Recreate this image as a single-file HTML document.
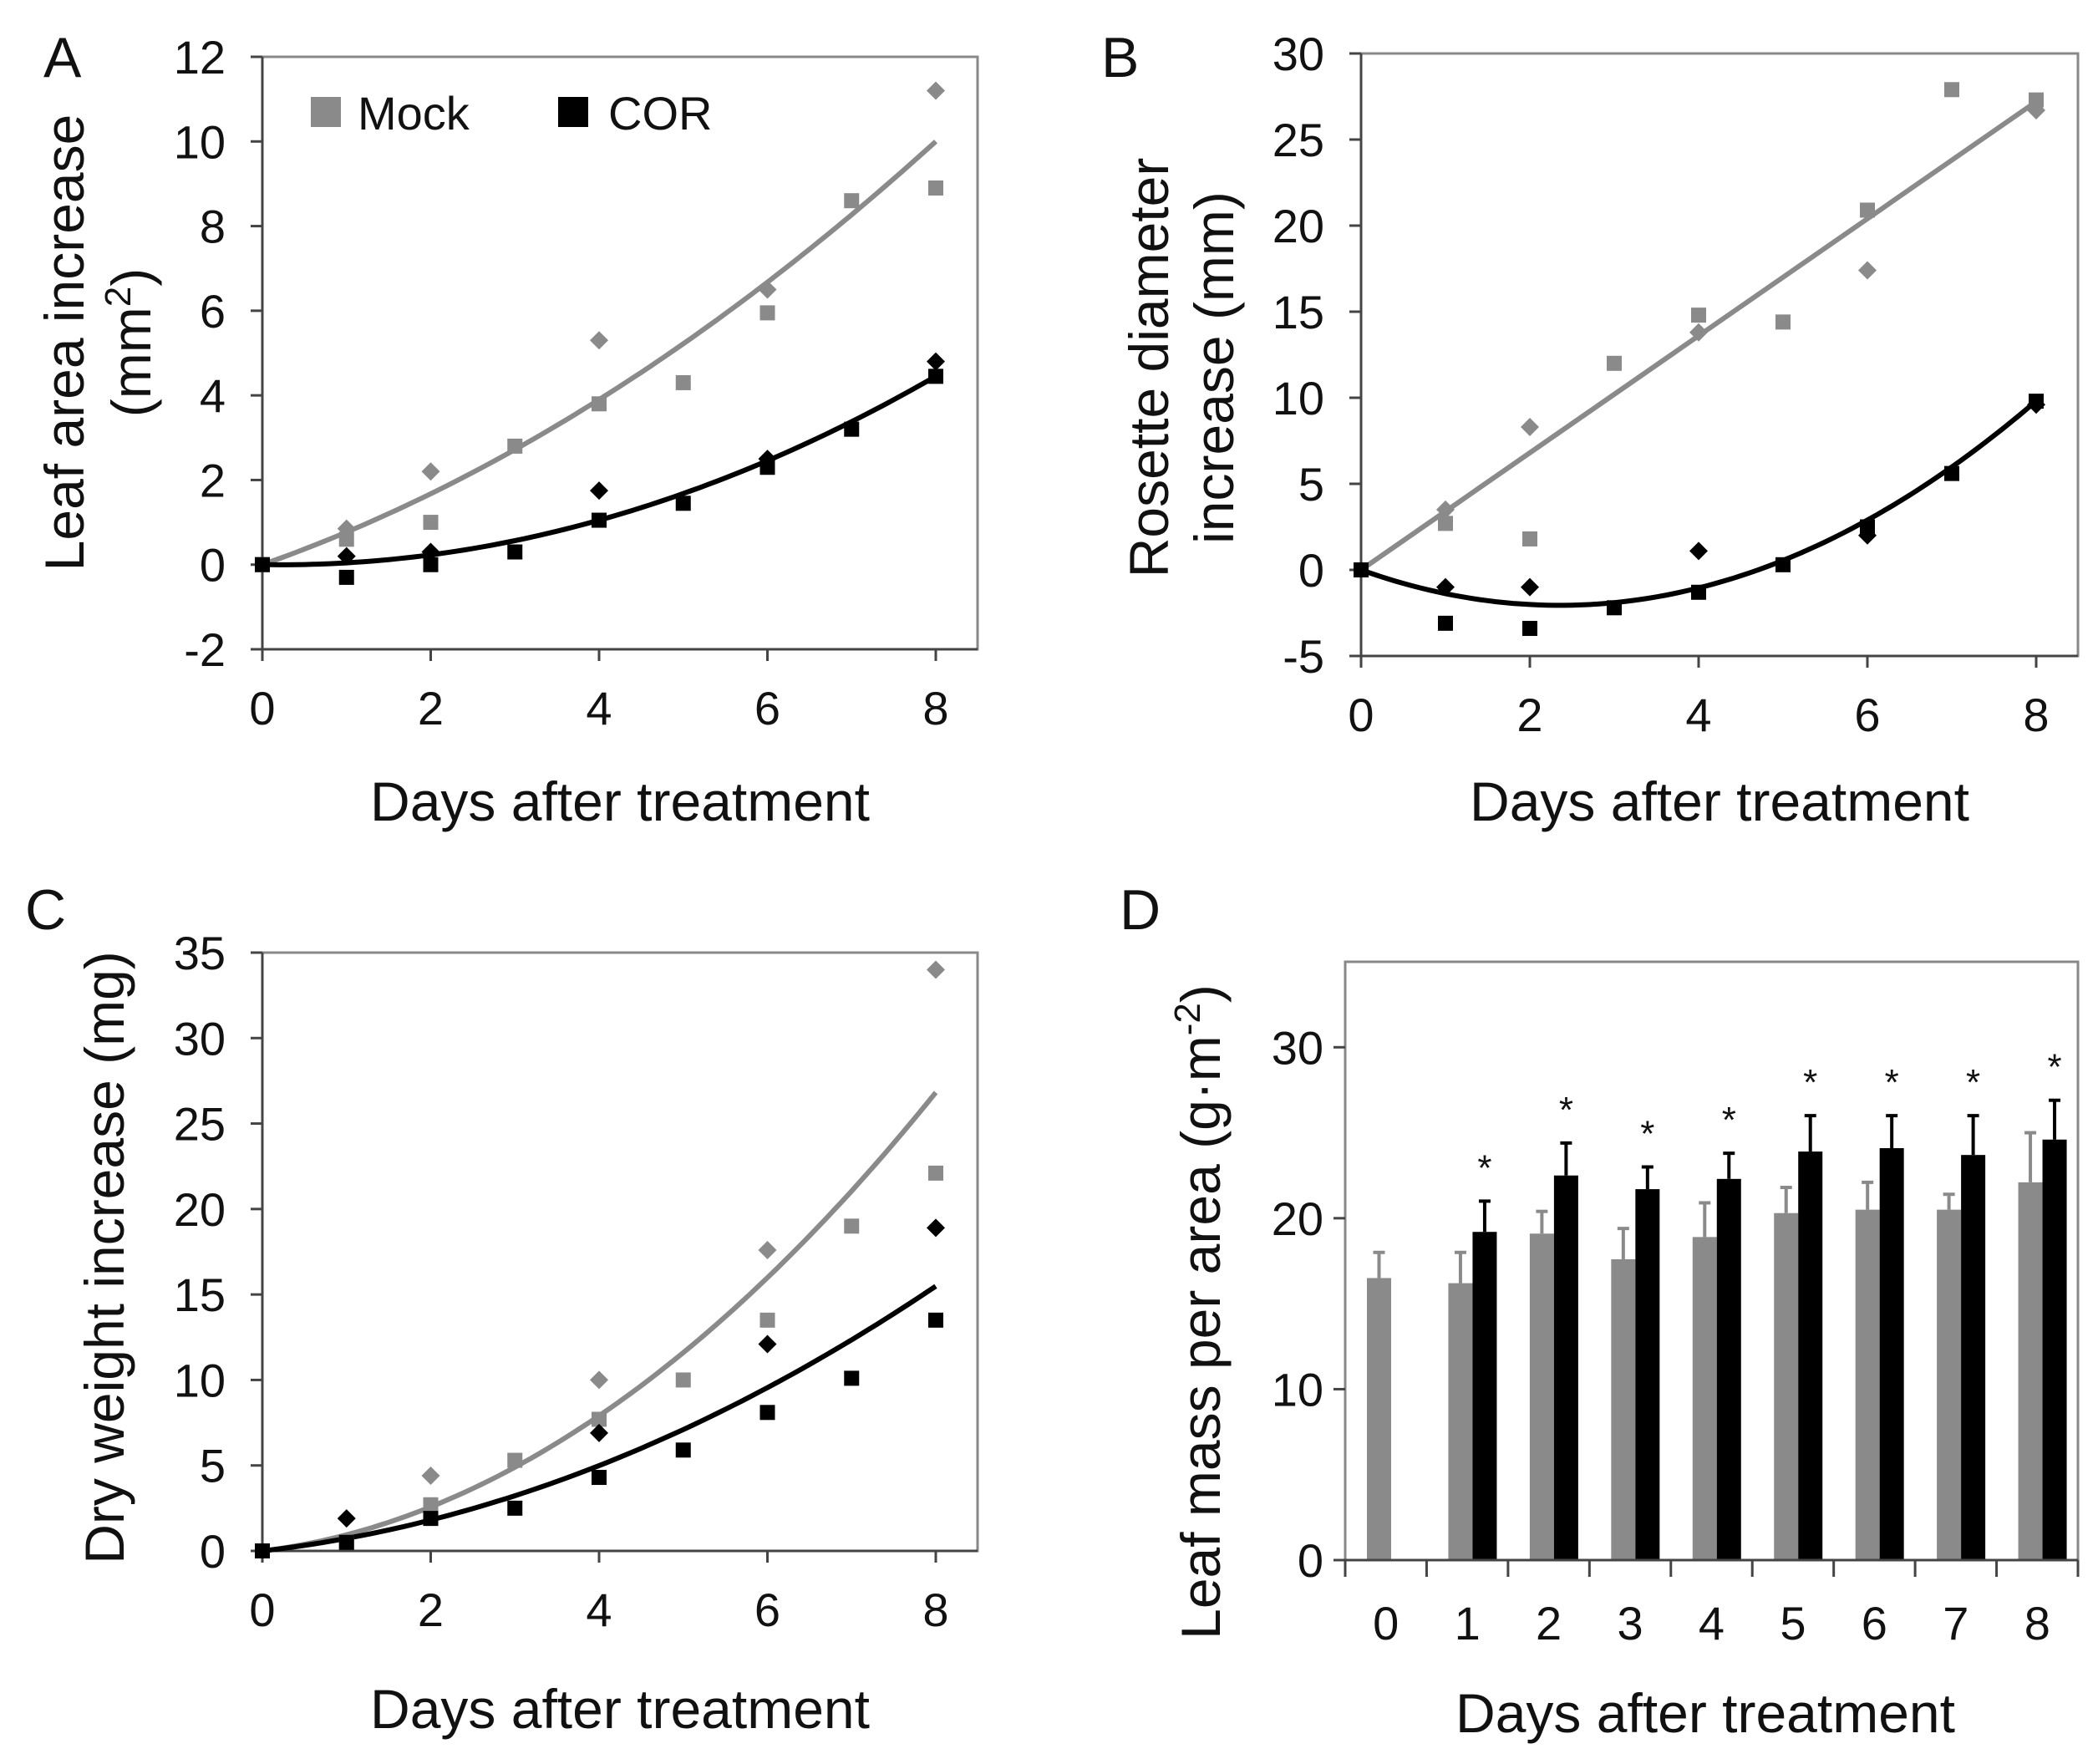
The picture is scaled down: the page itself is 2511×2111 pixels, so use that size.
<!DOCTYPE html>
<html><head><meta charset="utf-8"><style>
html,body{margin:0;padding:0;background:#fff}
svg text{font-family:"Liberation Sans",sans-serif;fill:#111}
</style></head><body>
<svg id="fig" width="2511" height="2106" viewBox="0 0 2511 2106" xmlns="http://www.w3.org/2000/svg">
<rect width="2511" height="2106" fill="#fff"/>
</svg>
<script>
// ---- Panel A data ----
const aDays = [0,1,2,3,4,5,6,7,8];
const aMockSq = [0,0.6,1.0,2.8,3.8,4.3,5.95,8.6,8.9];
const aCorSq = [0,-0.3,0.0,0.3,1.05,1.45,2.3,3.2,4.45];
const aDiaDays = [1,2,4,6,8];
const aMockDia = [0.85,2.2,5.3,6.5,11.2];
const aCorDia = [0.2,0.3,1.75,2.5,4.8];
const aMockFit = [0.7,0.06875];
const aCorFit = [-0.031,0.0734];
const aYTicks = [-2,0,2,4,6,8,10,12];
// ---- Panel B data ----
const bDays = [0,1,2,3,4,5,6,7,8];
const bMockSq = [0,2.7,1.8,12,14.8,14.4,20.9,27.9,27.3];
const bCorSq = [0,-3.1,-3.4,-2.2,-1.3,0.3,2.5,5.6,9.8];
const bDiaDays = [1,2,4,6,8];
const bMockDia = [3.5,8.3,13.8,17.4,26.7];
const bCorDia = [-1,-1,1.1,2.0,9.6];
const bMockFit = [3.4,0];
const bCorFit = [-1.75,0.372];
const bYTicks = [-5,0,5,10,15,20,25,30];
// ---- Panel C data ----
const cDays = [0,1,2,3,4,5,6,7,8];
const cMockSq = [0,0.5,2.7,5.3,7.7,10,13.5,19,22.1];
const cCorSq = [0,0.5,1.9,2.5,4.3,5.9,8.1,10.1,13.5];
const cMockDiaDays = [2,4,6,8];
const cMockDia = [4.4,10,17.6,34];
const cCorDiaDays = [1,4,6,8];
const cCorDia = [1.9,6.9,12.1,18.9];
const cMockFit = [0.6,0.344];
const cCorFit = [0.56,0.172];
const cYTicks = [0,5,10,15,20,25,30,35];
// ---- Panel D data ----
const dCats = ['0','1','2','3','4','5','6','7','8'];
const dMock = [16.5,16.2,19.1,17.6,18.9,20.3,20.5,20.5,22.1];
const dMockErr = [18,18,20.4,19.4,20.9,21.8,22.1,21.4,25];
const dCor = [null,19.2,22.5,21.7,22.3,23.9,24.1,23.7,24.6];
const dCorErr = [null,21,24.4,23,23.8,26,26,26,26.9];
const dYTicks = [0,10,20,30];
const xTicksLine = [0,2,4,6,8];

const NS='http://www.w3.org/2000/svg';
const svg=document.getElementById('fig');
function mk(tag,attrs,parent){const e=document.createElementNS(NS,tag);for(const k in attrs)e.setAttribute(k,attrs[k]);(parent||svg).appendChild(e);return e;}
function txt(s,x,y,size,anchor,parent){const t=mk('text',{x:x,y:y,'font-size':size,'text-anchor':anchor||'middle'},parent);t.textContent=s;return t;}
const GRAY='#8a8a8a', BLACK='#000';

function linePanel(cfg){
  const g=mk('g',{});
  
  
  const X=d=>cfg.x0+(cfg.x8-cfg.x0)*d/8;
  const Y=v=>cfg.bot+(cfg.top-cfg.bot)*(v-cfg.ymin)/(cfg.ymax-cfg.ymin);
  const frame=mk('rect',{x:cfg.x0,y:cfg.top,width:cfg.right-cfg.x0,height:cfg.bot-cfg.top,fill:'none',stroke:'#888','stroke-width':3},g);
  
  const ya=mk('line',{x1:cfg.x0,y1:cfg.top,x2:cfg.x0,y2:cfg.bot,stroke:'#444','stroke-width':3},g);
  
  const xa=mk('line',{x1:cfg.x0,y1:cfg.bot,x2:cfg.right,y2:cfg.bot,stroke:'#444','stroke-width':3},g);
  
  cfg.yTicks.forEach(v=>{
    mk('line',{x1:cfg.x0-14,y1:Y(v),x2:cfg.x0,y2:Y(v),stroke:'#444','stroke-width':3},g);
    const t=txt(String(v),cfg.x0-44,Y(v)+20,56,'end',g);
    
  });
  xTicksLine.forEach(d=>{
    mk('line',{x1:X(d),y1:cfg.bot,x2:X(d),y2:cfg.bot+14,stroke:'#444','stroke-width':3},g);
    const t=txt(String(d),X(d),cfg.bot+90,56,'middle',g);
    
  });
  [[cfg.mockFit,GRAY,'mock-trendline'],[cfg.corFit,BLACK,'cor-trendline']].forEach(([f,c,n])=>{
    let p='';for(let i=0;i<=80;i++){const d=i/10;p+=(i?'L':'M')+X(d).toFixed(1)+','+Y(f[0]*d+f[1]*d*d).toFixed(1);}
    const l=mk('path',{d:p,fill:'none',stroke:c,'stroke-width':6},g);
    
  });
  const sq=(xs,ys,c,n)=>xs.forEach((d,i)=>{const r=mk('rect',{x:X(d)-9,y:Y(ys[i])-9,width:18,height:18,fill:c},g);
    });
  const dia=(xs,ys,c,n)=>xs.forEach((d,i)=>{const cx=X(d),cy=Y(ys[i]);const r=mk('polygon',{points:`${cx},${cy-11} ${cx+11},${cy} ${cx},${cy+11} ${cx-11},${cy}`,fill:c},g);
    });
  sq(cfg.days,cfg.mockSq,GRAY,'mock-square-point');
  dia(cfg.mockDiaDays,cfg.mockDia,GRAY,'mock-diamond-point');
  sq(cfg.days,cfg.corSq,BLACK,'cor-square-point');
  dia(cfg.corDiaDays,cfg.corDia,BLACK,'cor-diamond-point');
  const xt=txt('Days after treatment',(cfg.x0+cfg.right)/2,cfg.bot+cfg.titleOff,66,'middle',g);
  
  return g;
}

linePanel({name:'panel-a',x0:314,x8:1120,right:1170,top:68,bot:777,titleOff:205,ymin:-2,ymax:12,yTicks:aYTicks,days:aDays,mockSq:aMockSq,corSq:aCorSq,mockDiaDays:aDiaDays,mockDia:aMockDia,corDiaDays:aDiaDays,corDia:aCorDia,mockFit:aMockFit,corFit:aCorFit});
linePanel({name:'panel-b',x0:1629,x8:2437,right:2487,top:64,bot:785,titleOff:197,ymin:-5,ymax:30,yTicks:bYTicks,days:bDays,mockSq:bMockSq,corSq:bCorSq,mockDiaDays:bDiaDays,mockDia:bMockDia,corDiaDays:bDiaDays,corDia:bCorDia,mockFit:bMockFit,corFit:bCorFit});
linePanel({name:'panel-c',x0:314,x8:1120,right:1170,top:1140,bot:1856,titleOff:212,ymin:0,ymax:35,yTicks:cYTicks,days:cDays,mockSq:cMockSq,corSq:cCorSq,mockDiaDays:cMockDiaDays,mockDia:cMockDia,corDiaDays:cCorDiaDays,corDia:cCorDia,mockFit:cMockFit,corFit:cCorFit});

// Panel D
(function(){
  const g=mk('g',{});
  
  
  const L=1610,R=2487,T=1151,B=1867,ymax=35;
  const Y=v=>B-(B-T)*v/ymax;
  const cw=(R-L)/dCats.length;
  const frame=mk('rect',{x:L,y:T,width:R-L,height:B-T,fill:'none',stroke:'#888','stroke-width':3},g);
  
  dYTicks.forEach(v=>{
    mk('line',{x1:L-14,y1:Y(v),x2:L,y2:Y(v),stroke:'#444','stroke-width':3},g);
    const t=txt(String(v),L-26,Y(v)+20,56,'end',g);
    
  });
  for(let i=0;i<=dCats.length;i++) mk('line',{x1:L+cw*i,y1:B,x2:L+cw*i,y2:B+20,stroke:'#444','stroke-width':3},g);
  dCats.forEach((c,i)=>{
    const gx=L+cw*i+26, bw=29;
    const e1=mk('line',{x1:gx+bw/2,y1:Y(dMock[i]),x2:gx+bw/2,y2:Y(dMockErr[i]),stroke:GRAY,'stroke-width':4},g);
    
    mk('line',{x1:gx+bw/2-7,y1:Y(dMockErr[i]),x2:gx+bw/2+7,y2:Y(dMockErr[i]),stroke:GRAY,'stroke-width':4},g);
    const b=mk('rect',{x:gx,y:Y(dMock[i]),width:bw,height:B-Y(dMock[i]),fill:GRAY},g);
    
    if(dCor[i]!=null){
      const bx=gx+bw;
      const e2=mk('line',{x1:bx+bw/2,y1:Y(dCor[i]),x2:bx+bw/2,y2:Y(dCorErr[i]),stroke:BLACK,'stroke-width':4},g);
      
      mk('line',{x1:bx+bw/2-7,y1:Y(dCorErr[i]),x2:bx+bw/2+7,y2:Y(dCorErr[i]),stroke:BLACK,'stroke-width':4},g);
      const b2=mk('rect',{x:bx,y:Y(dCor[i]),width:bw,height:B-Y(dCor[i]),fill:BLACK},g);
      
      const s=txt('*',bx+bw/2,Y(dCorErr[i]+2.3)+22,44,'middle',g);
      
    }
    const t=txt(c,L+cw*(i+0.5),1962,56,'middle',g);
    
  });
  mk('line',{x1:L,y1:B,x2:R,y2:B,stroke:'#444','stroke-width':3},g);
  const xt=txt('Days after treatment',2041,2073,66,'middle',g);
  
})();
</script>
<svg width="2511" height="2106" style="position:absolute;left:0;top:0" xmlns="http://www.w3.org/2000/svg">
<g>
<text x="52" y="92" font-size="68">A</text>
<text x="1318" y="92" font-size="68">B</text>
<text x="30" y="1112" font-size="68">C</text>
<text x="1340" y="1112" font-size="68">D</text>
</g>
<g>
<rect x="372" y="116" width="36" height="36" fill="#8a8a8a"/>
<text x="428" y="155" font-size="56">Mock</text>
<rect x="668" y="116" width="36" height="36" fill="#000"/>
<text x="728" y="155" font-size="56">COR</text>
</g>
<text transform="translate(100,410) rotate(-90)" font-size="66" text-anchor="middle">Leaf area increase</text>
<text transform="translate(180,410) rotate(-90)" font-size="66" text-anchor="middle">(mm<tspan dy="-24" font-size="44">2</tspan><tspan dy="24">)</tspan></text>
<text transform="translate(1398,440) rotate(-90)" font-size="66" text-anchor="middle">Rosette diameter</text>
<text transform="translate(1476,440) rotate(-90)" font-size="66" text-anchor="middle">increase (mm)</text>
<text transform="translate(148,1505) rotate(-90)" font-size="66" text-anchor="middle">Dry weight increase (mg)</text>
<text transform="translate(1460,1570) rotate(-90)" font-size="66" text-anchor="middle">Leaf mass per area (g·m<tspan dy="-24" font-size="44">-2</tspan><tspan dy="24">)</tspan></text>
</svg>
</body></html>
